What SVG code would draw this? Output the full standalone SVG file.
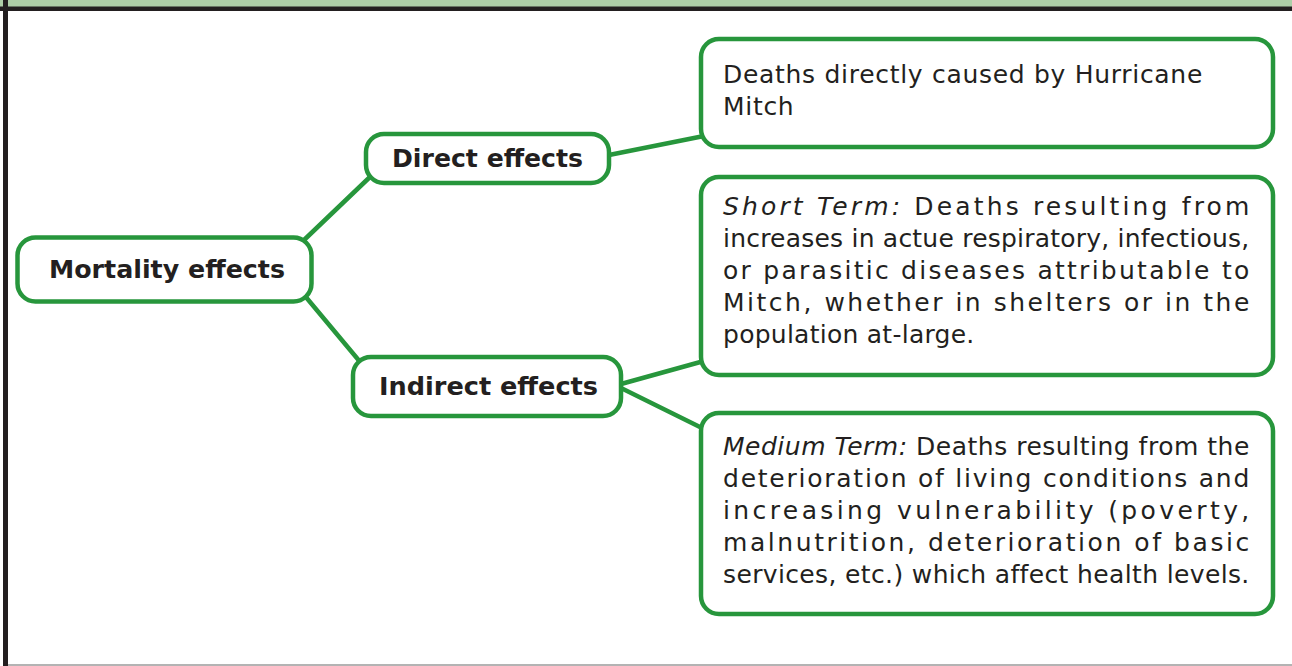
<svg xmlns="http://www.w3.org/2000/svg" width="1292" height="666" viewBox="0 0 1292 666">
<style>
.box{fill:#ffffff;stroke:#27963c;stroke-width:4.5}
.conn{stroke:#27963c;stroke-width:4.5;fill:none;stroke-linecap:round}
.lbl{font-family:"DejaVu Sans","Liberation Sans",sans-serif;font-weight:bold;font-size:24px;fill:#231f20;text-anchor:middle}
.body{font-family:"DejaVu Sans","Liberation Sans",sans-serif;font-size:25px;letter-spacing:0.7px;fill:#231f20}
.it{font-style:italic}
</style>
<rect x="0" y="0" width="1292" height="666" fill="#ffffff"/>
<g id="frame">
<rect x="0" y="0" width="1292" height="7" fill="#aecfa8"/>
<rect x="0" y="6.5" width="1292" height="4.5" fill="#231f20"/>
<rect x="3" y="0" width="5" height="666" fill="#231f20"/>
<line x1="8" y1="665" x2="1292" y2="665" stroke="#9a9a9a" stroke-width="1.5"/>
</g>
<g id="connectors">
<line class="conn" x1="303" y1="241" x2="371" y2="176"/>
<line class="conn" x1="305" y1="296" x2="361" y2="363"/>
<line class="conn" x1="609" y1="155" x2="704" y2="136"/>
<line class="conn" x1="621" y1="384" x2="704" y2="361"/>
<line class="conn" x1="621" y1="388" x2="704" y2="429"/>
</g>
<g id="mortality">
<rect class="box" x="17.5" y="237.5" width="294" height="64" rx="18"/>
<text class="lbl" x="167" y="278" textLength="236" lengthAdjust="spacingAndGlyphs">Mortality effects</text>
</g>
<g id="direct">
<rect class="box" x="366" y="134" width="243" height="49" rx="18"/>
<text class="lbl" x="487.5" y="167" textLength="191" lengthAdjust="spacingAndGlyphs">Direct effects</text>
</g>
<g id="indirect">
<rect class="box" x="353" y="357" width="268" height="59" rx="18"/>
<text class="lbl" x="488.5" y="395" textLength="219" lengthAdjust="spacingAndGlyphs">Indirect effects</text>
</g>
<g id="direct-deaths">
<rect class="box" x="701" y="39" width="572" height="108" rx="18"/>
<text class="body" x="723" y="83" textLength="480" lengthAdjust="spacing">Deaths directly caused by Hurricane</text>
<text class="body" x="723" y="115">Mitch</text>
</g>
<g id="short-term">
<rect class="box" x="701" y="177" width="572" height="198" rx="18"/>
<text class="body" x="723" y="215" textLength="527" lengthAdjust="spacing"><tspan class="it">Short Term:</tspan> Deaths resulting from</text>
<text class="body" x="723" y="247" textLength="527" lengthAdjust="spacing">increases in actue respiratory, infectious,</text>
<text class="body" x="723" y="279" textLength="527" lengthAdjust="spacing">or parasitic diseases attributable to</text>
<text class="body" x="723" y="311" textLength="527" lengthAdjust="spacing">Mitch, whether in shelters or in the</text>
<text class="body" x="723" y="343" textLength="252" lengthAdjust="spacing">population at-large.</text>
</g>
<g id="medium-term">
<rect class="box" x="701" y="413" width="572" height="201" rx="18"/>
<text class="body" x="723" y="455" textLength="527" lengthAdjust="spacing"><tspan class="it">Medium Term:</tspan> Deaths resulting from the</text>
<text class="body" x="723" y="487" textLength="527" lengthAdjust="spacing">deterioration of living conditions and</text>
<text class="body" x="723" y="519" textLength="527" lengthAdjust="spacing">increasing vulnerability (poverty,</text>
<text class="body" x="723" y="551" textLength="527" lengthAdjust="spacing">malnutrition, deterioration of basic</text>
<text class="body" x="723" y="583" textLength="527" lengthAdjust="spacing">services, etc.) which affect health levels.</text>
</g>
</svg>
